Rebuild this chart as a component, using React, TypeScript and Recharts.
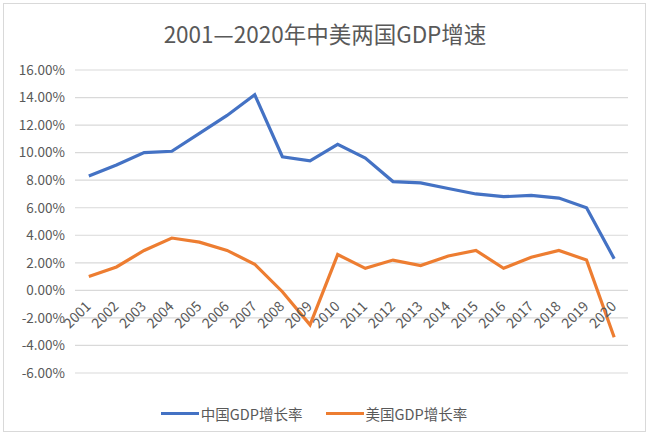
import React from 'react';
import {
  LineChart,
  Line,
  XAxis,
  YAxis,
  CartesianGrid,
  Legend,
} from 'recharts';

const years = [
  '2001', '2002', '2003', '2004', '2005', '2006', '2007', '2008', '2009', '2010',
  '2011', '2012', '2013', '2014', '2015', '2016', '2017', '2018', '2019', '2020',
];
const chinaGrowth = [
  8.3, 9.1, 10.0, 10.1, 11.4, 12.7, 14.2, 9.7, 9.4, 10.6,
  9.6, 7.9, 7.8, 7.4, 7.0, 6.8, 6.9, 6.7, 6.0, 2.3,
];
const usGrowth = [
  1.0, 1.7, 2.9, 3.8, 3.5, 2.9, 1.9, -0.1, -2.5, 2.6,
  1.6, 2.2, 1.8, 2.5, 2.9, 1.6, 2.4, 2.9, 2.2, -3.4,
];
const yTicks = [-6, -4, -2, 0, 2, 4, 6, 8, 10, 12, 14, 16];

const W = 650;
const H = 435;
const TOP = 70;
const RIGHT = 22;
const Y_AXIS_W = 75;
const XAXIS_H = 30;
const LEGEND_H = 32;
const PLOT_H = H - TOP - XAXIS_H - LEGEND_H;
const PLOT_W = W - Y_AXIS_W - RIGHT;
const BAND = PLOT_W / years.length;
const Y_MIN = -6;
const Y_MAX = 16;
// distance from plot bottom up to the 0% line
const ZERO_SHIFT = (PLOT_H * (0 - Y_MIN)) / (Y_MAX - Y_MIN);

const textColor = '#595959';
const font = '"Noto Sans CJK SC", "Noto Sans", sans-serif';

const data = years.map((year, i) => ({
  year,
  china: chinaGrowth[i],
  us: usGrowth[i],
}));

// year labels hang under the 0% line, not at the plot bottom
const YearTick = (props: any) => {
  const { x, y, payload } = props;
  const ax = x + 3;
  const ay = y - ZERO_SHIFT + 17;
  return (
    <text
      x={ax}
      y={ay}
      transform={`rotate(-45, ${ax}, ${ay})`}
      textAnchor="end"
      fill={textColor}
      fontSize={14}
      fontFamily={font}
    >
      {payload.value}
    </text>
  );
};

const renderLegend = (props: any) => {
  const { payload } = props;
  return (
    <div style={{ display: 'flex', justifyContent: 'center', gap: 23, fontFamily: font }}>
      {payload.map((entry: any) => (
        <div key={entry.value} style={{ display: 'flex', alignItems: 'center' }}>
          <span
            style={{
              display: 'inline-block',
              width: 38,
              height: 3,
              background: entry.color,
              marginRight: 2,
            }}
          />
          <span style={{ color: textColor, fontSize: 14.5 }}>{entry.value}</span>
        </div>
      ))}
    </div>
  );
};

export default function App() {
  return (
    <div
      style={{
        position: 'absolute',
        left: 0,
        top: 0,
        width: W,
        height: H,
        background: '#fff',
        fontFamily: font,
      }}
    >
      <div
        style={{
          position: 'absolute',
          left: 3,
          top: 3,
          right: 4,
          bottom: 3,
          border: '1px solid #d9d9d9',
        }}
      />
      <div
        style={{
          position: 'absolute',
          top: 17,
          width: W,
          textAlign: 'center',
          fontSize: 22.5,
          color: textColor,
        }}
      >
        2001—2020年中美两国GDP增速
      </div>
      <LineChart
        width={W}
        height={H}
        data={data}
        margin={{ top: TOP, right: RIGHT, left: 0, bottom: 0 }}
      >
        <CartesianGrid vertical={false} stroke="#d9d9d9" strokeWidth={1.2} />
        <XAxis
          dataKey="year"
          height={XAXIS_H}
          axisLine={false}
          tickLine={false}
          tickSize={0}
          tickMargin={0}
          interval={0}
          padding={{ left: BAND / 2, right: BAND / 2 }}
          tick={<YearTick />}
        />
        <YAxis
          width={Y_AXIS_W}
          domain={[Y_MIN, Y_MAX]}
          ticks={yTicks}
          axisLine={false}
          tickLine={false}
          tickSize={0}
          tickMargin={10}
          tickFormatter={(v: number) => `${v.toFixed(2)}%`}
          tick={{ fill: textColor, fontSize: 13.5, fontFamily: font }}
        />
        <Legend verticalAlign="bottom" height={LEGEND_H} content={renderLegend} />
        <Line
          dataKey="china"
          name="中国GDP增长率"
          stroke="#4472C4"
          strokeWidth={3.2}
          dot={false}
          isAnimationActive={false}
        />
        <Line
          dataKey="us"
          name="美国GDP增长率"
          stroke="#ED7D31"
          strokeWidth={3.2}
          dot={false}
          isAnimationActive={false}
        />
      </LineChart>
    </div>
  );
}
